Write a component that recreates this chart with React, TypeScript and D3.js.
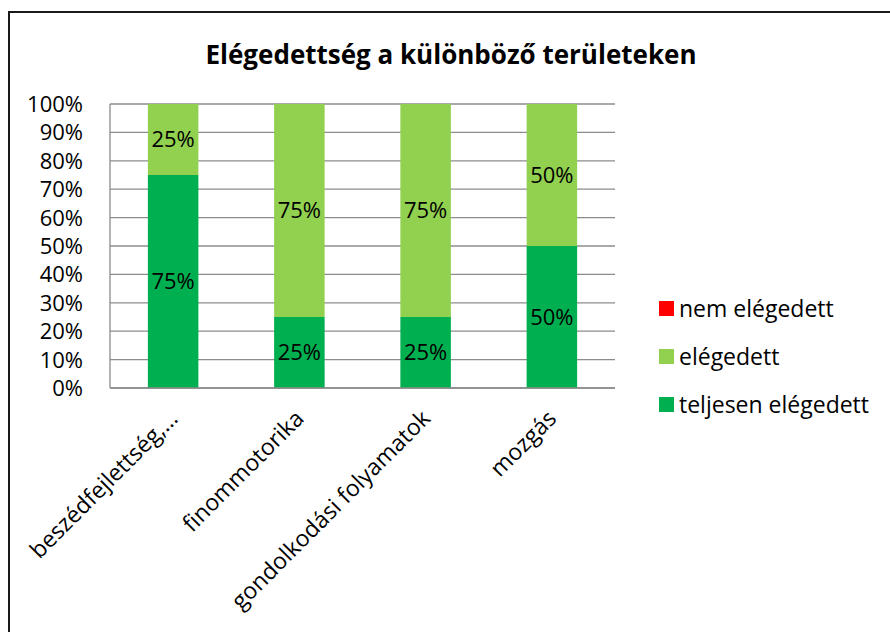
import React, { useRef, useEffect } from "react";
import * as d3 from "d3";

const categories = [
  "beszédfejlettség,…",
  "finommotorika",
  "gondolkodási folyamatok",
  "mozgás",
];
const teljesenElegedett = [75, 25, 25, 50];
const elegedett = [25, 75, 75, 50];
const nemElegedett = [0, 0, 0, 0];
const yTicks = [0, 10, 20, 30, 40, 50, 60, 70, 80, 90, 100];

const seriesNames = ["teljesen elégedett", "elégedett", "nem elégedett"];
const seriesColors = ["#00B050", "#92D050", "#FF0000"];

const FONT = "'Open Sans', 'Noto Sans', sans-serif";

const App = () => {
  const svgRef = useRef<SVGSVGElement>(null);

  useEffect(() => {
    document.body.style.margin = "0";
    const width = 890;
    const height = 632;
    const plot = { left: 110, right: 615, top: 104, bottom: 388 };

    const svg = d3.select(svgRef.current);
    svg.selectAll("*").remove();
    svg.attr("width", width).attr("height", height);

    svg.append("rect").attr("width", width).attr("height", height).attr("fill", "#fff");

    // chart frame (cut off on the right and bottom)
    svg
      .append("rect")
      .attr("x", 9)
      .attr("y", 12)
      .attr("width", 900)
      .attr("height", 700)
      .attr("fill", "none")
      .attr("stroke", "#1a1a1a")
      .attr("stroke-width", 2);

    svg
      .append("text")
      .attr("x", 451)
      .attr("y", 64)
      .attr("text-anchor", "middle")
      .style("font-family", FONT)
      .style("font-weight", "bold")
      .style("font-size", "26px")
      .style("fill", "#000")
      .text("Elégedettség a különböző területeken");

    const x = d3
      .scaleBand()
      .domain(categories)
      .range([plot.left, plot.right])
      .paddingInner(0.6)
      .paddingOuter(0.3);

    const y = d3.scaleLinear().domain([0, 100]).range([plot.bottom, plot.top]);

    // gridlines
    svg
      .append("g")
      .selectAll("line")
      .data(yTicks)
      .enter()
      .append("line")
      .attr("x1", plot.left)
      .attr("x2", plot.right)
      .attr("y1", (d) => y(d))
      .attr("y2", (d) => y(d))
      .attr("stroke", "#8c8c8c")
      .attr("stroke-width", 1.3);

    svg
      .append("line")
      .attr("x1", plot.left)
      .attr("x2", plot.left)
      .attr("y1", plot.top)
      .attr("y2", plot.bottom)
      .attr("stroke", "#8c8c8c")
      .attr("stroke-width", 1.3);

    // y tick labels
    svg
      .append("g")
      .selectAll("text")
      .data(yTicks)
      .enter()
      .append("text")
      .attr("x", 83)
      .attr("y", (d) => y(d))
      .attr("dy", "0.36em")
      .attr("text-anchor", "end")
      .style("font-family", FONT)
      .style("font-size", "22px")
      .style("fill", "#000")
      .text((d) => `${d}%`);

    const rows = categories.map((c, i) => ({
      cat: c,
      s0: teljesenElegedett[i],
      s1: elegedett[i],
      s2: nemElegedett[i],
    }));
    const stacked = d3.stack<any>().keys(["s0", "s1", "s2"])(rows);

    stacked.forEach((layer, si) => {
      const g = svg.append("g");
      g.selectAll("rect")
        .data(layer)
        .enter()
        .append("rect")
        .attr("x", (d: any) => x(d.data.cat)!)
        .attr("width", x.bandwidth())
        .attr("y", (d) => y(d[1]))
        .attr("height", (d) => y(d[0]) - y(d[1]))
        .attr("fill", seriesColors[si]);

      g.selectAll("text")
        .data(layer.filter((d) => d[1] - d[0] > 0))
        .enter()
        .append("text")
        .attr("x", (d: any) => x(d.data.cat)! + x.bandwidth() / 2)
        .attr("y", (d) => y((d[0] + d[1]) / 2))
        .attr("dy", "0.36em")
        .attr("text-anchor", "middle")
        .style("font-family", FONT)
        .style("font-size", "22px")
        .style("fill", "#000")
        .text((d) => `${d[1] - d[0]}%`);
    });

    // x axis line
    svg
      .append("line")
      .attr("x1", plot.left)
      .attr("x2", plot.right)
      .attr("y1", plot.bottom)
      .attr("y2", plot.bottom)
      .attr("stroke", "#8c8c8c")
      .attr("stroke-width", 1.3);

    // rotated category labels
    svg
      .append("g")
      .selectAll("text")
      .data(categories)
      .enter()
      .append("text")
      .attr("transform", (d) => {
        const cx = x(d)! + x.bandwidth() / 2 + 6;
        return `translate(${cx},${plot.bottom + 32}) rotate(-45)`;
      })
      .attr("text-anchor", "end")
      .style("font-family", FONT)
      .style("font-size", "23px")
      .style("fill", "#000")
      .text((d) => d);

    // legend
    const legendY = d3
      .scalePoint<string>()
      .domain([...seriesNames].reverse())
      .range([309, 405]);

    const legend = svg
      .append("g")
      .selectAll("g")
      .data(seriesNames.map((n, i) => ({ n, c: seriesColors[i] })))
      .enter()
      .append("g")
      .attr("transform", (d) => `translate(659,${legendY(d.n)})`);

    legend
      .append("rect")
      .attr("x", 0)
      .attr("y", -8)
      .attr("width", 15)
      .attr("height", 15)
      .attr("fill", (d) => d.c);

    legend
      .append("text")
      .attr("x", 20)
      .attr("dy", "0.36em")
      .style("font-family", FONT)
      .style("font-size", "23px")
      .style("fill", "#000")
      .text((d) => d.n);
  }, []);

  return (
    <div>
      <svg ref={svgRef} style={{ display: "block" }}></svg>
    </div>
  );
};

export default App;
